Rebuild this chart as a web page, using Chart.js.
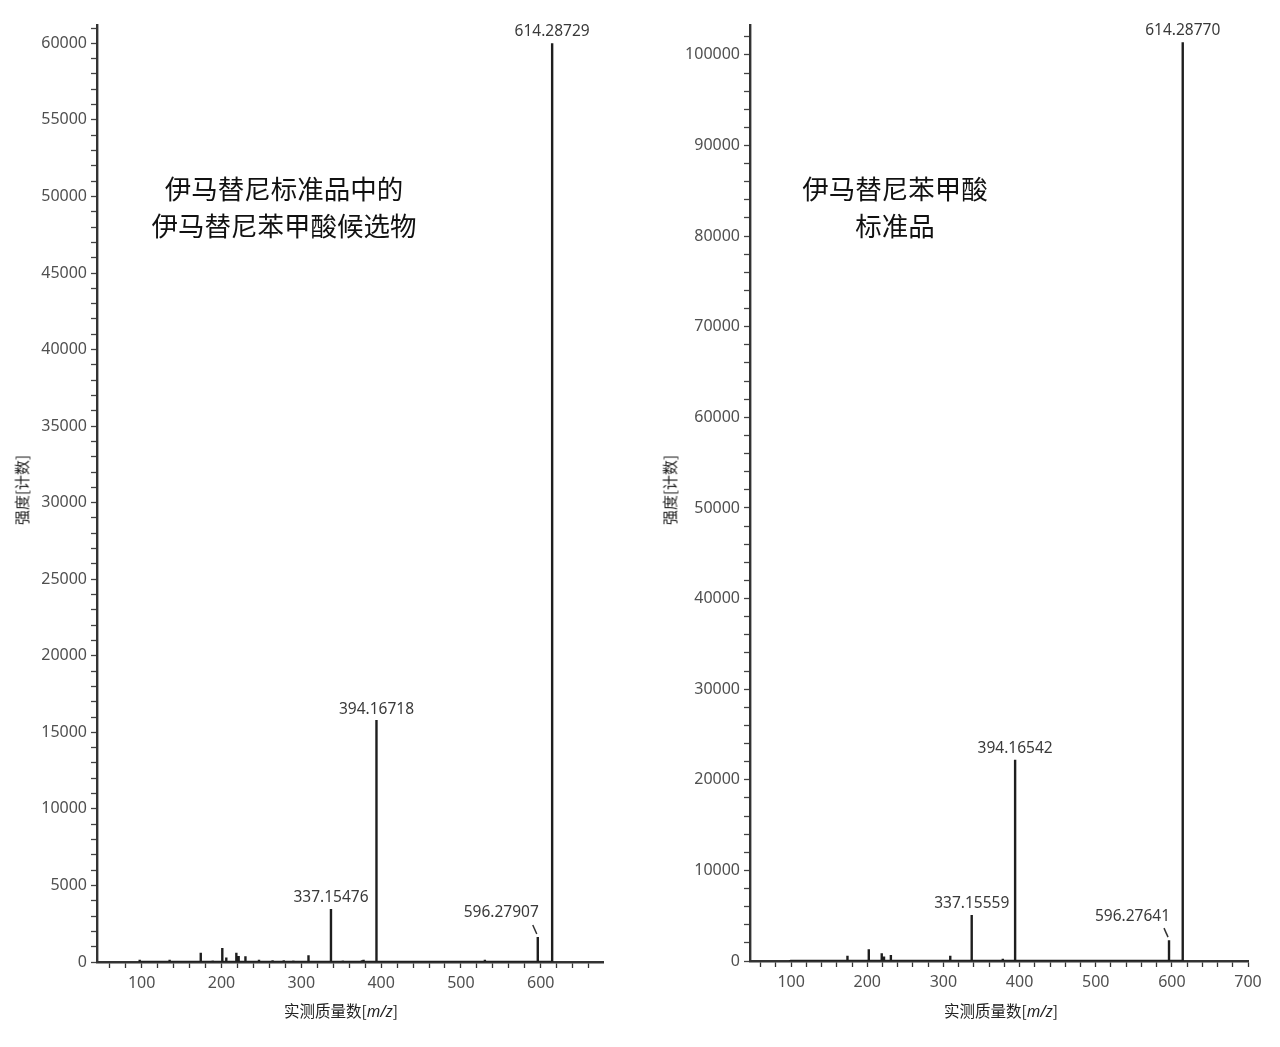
<!DOCTYPE html>
<html>
<head>
<meta charset="utf-8">
<script src="https://cdn.jsdelivr.net/npm/chart.js@4.4.1/dist/chart.umd.min.js"></script>
<style>
  html, body { margin:0; padding:0; background:#fff; }
  body { width:1280px; height:1047px; position:relative; overflow:hidden; font-family:"Noto Sans","Noto Sans CJK SC",sans-serif; }
  canvas { position:absolute; top:0; }
  .note { position:absolute; font-family:"Noto Sans CJK SC",sans-serif; font-size:26.5px; line-height:37px; color:#111; text-align:center; white-space:nowrap; transform:translateX(-50%); }
  .xt { position:absolute; font-family:"Noto Sans CJK SC",sans-serif; font-size:15.5px; color:#222; white-space:nowrap; transform:translate(-50%,-50%); }
  .yt { position:absolute; font-family:"Noto Sans CJK SC",sans-serif; font-size:15px; color:#222; white-space:nowrap; transform:translate(-50%,-50%) rotate(-90deg); }
  .xt i { font-family:"Noto Sans",sans-serif; font-style:italic; }
</style>
</head>
<body>
<canvas id="c1" width="640" height="1047" style="left:0"></canvas>
<canvas id="c2" width="640" height="1047" style="left:640px"></canvas>

<div class="note" style="left:284px; top:169px;">伊马替尼标准品中的<br>伊马替尼苯甲酸候选物</div>
<div class="note" style="left:895px; top:169px;">伊马替尼苯甲酸<br>标准品</div>
<div class="xt" style="left:341px; top:1010px;">实测质量数[<i>m/z</i>]</div>
<div class="xt" style="left:1001px; top:1010px;">实测质量数[<i>m/z</i>]</div>
<div class="yt" style="left:21px; top:490px;">强度[计数]</div>
<div class="yt" style="left:669px; top:490px;">强度[计数]</div>

<script>
// ---- Left spectrum: imatinib standard, candidate imatinib benzoic acid ----
const mzA  = [97.5, 118, 135, 174, 189, 201, 206, 218.6, 221.5, 230, 247, 264, 278, 290, 309, 337.15476, 352, 364, 376, 378, 394.16718, 530, 596.27907, 614.28729];
const intA = [150, 80, 150, 610, 100, 920, 300, 610, 400, 370, 150, 120, 120, 100, 435, 3460, 100, 80, 120, 150, 15800, 150, 1630, 60000];
const labelsA = ["614.28729", "394.16718", "337.15476", "596.27907"];

// ---- Right spectrum: imatinib benzoic acid standard ----
const mzB  = [98.7, 135, 174, 190, 202, 219, 222, 231, 246, 264, 309, 337.15559, 378, 394.16542, 530, 596.27641, 614.28770];
const intB = [100, 100, 590, 150, 1290, 850, 500, 660, 150, 100, 590, 5080, 250, 22200, 150, 2300, 101400];
const labelsB = ["614.28770", "394.16542", "337.15559", "596.27641"];

// axis ranges / ticks
const xRangeA = [44, 678],  yRangeA = [0, 61200];
const xRangeB = [46, 700],  yRangeB = [0, 103300];
const xMajor = 100, xMinor = 20;
const yMajorA = 5000, yMinorA = 1000;
const yMajorB = 10000, yMinorB = 2000;

function sticks(mz, inten) {
  const pts = [];
  mz.forEach((m, i) => { pts.push({x:m, y:0}, {x:m, y:inten[i]}, {x:m, y:0}); });
  return pts;
}

function tickValues(min, max, step) {
  const out = [];
  for (let v = Math.ceil(min / step) * step; v <= max; v += step) out.push({value: v});
  return out;
}

const peakLabelPlugin = {
  id: 'peakLabels',
  afterDatasetsDraw(chart, args, opts) {
    const ctx = chart.ctx, xs = chart.scales.x, ys = chart.scales.y;
    ctx.save();
    ctx.font = '15.5px "Noto Sans", sans-serif';
    ctx.fillStyle = '#3a3a3a';
    ctx.textBaseline = 'middle';
    opts.items.forEach(it => {
      const m = parseFloat(it.text);
      const idx = opts.mz.indexOf(m);
      const px = xs.getPixelForValue(m);
      const py = ys.getPixelForValue(opts.inten[idx]);
      if (it.leader) {
        ctx.textAlign = 'right';
        ctx.fillText(it.text, px + it.dx, py + it.dy);
        ctx.strokeStyle = '#333'; ctx.lineWidth = 1.5;
        ctx.beginPath();
        ctx.moveTo(px - 5, py - 12); ctx.lineTo(px - 1, py - 3);
        ctx.stroke();
      } else {
        ctx.textAlign = 'center';
        ctx.fillText(it.text, px, py + it.dy);
      }
    });
    ctx.restore();
  }
};

function makeChart(id, mz, inten, labels, xr, yr, yMajor, yMinor, yAxisW, padRight, xAxisH) {
  const items = [
    {text: labels[0], dy: -12},
    {text: labels[1], dy: -11},
    {text: labels[2], dy: -11},
    {text: labels[3], leader: true, dx: 1, dy: -24}
  ];
  new Chart(document.getElementById(id), {
    type: 'line',
    data: { datasets: [{
      data: sticks(mz, inten),
      borderColor: '#1e1e1e',
      borderWidth: 2.4,
      pointRadius: 0,
      tension: 0,
      fill: false
    }]},
    options: {
      responsive: false,
      animation: false,
      devicePixelRatio: 1,
      parsing: false,
      layout: { padding: { top: 25, right: padRight, bottom: 0, left: 0 } },
      plugins: {
        legend: { display: false },
        tooltip: { enabled: false },
        peakLabels: { items, mz, inten }
      },
      scales: {
        x: {
          type: 'linear', min: xr[0], max: xr[1],
          border: { color: '#333', width: 2.4 },
          grid: { drawOnChartArea: false, drawTicks: true, tickLength: 6, tickColor: '#333', tickWidth: 1.3 },
          ticks: {
            autoSkip: false, maxRotation: 0, padding: 6,
            color: '#505050', font: { family: 'Noto Sans', size: 16 },
            callback: v => (Math.round(v) % xMajor === 0 ? String(v) : '')
          },
          afterBuildTicks: s => { s.ticks = tickValues(xr[0], xr[1], xMinor); },
          afterFit: s => { s.height = xAxisH; }
        },
        y: {
          type: 'linear', min: yr[0], max: yr[1],
          border: { color: '#333', width: 2.4 },
          grid: { drawOnChartArea: false, drawTicks: true, tickLength: 6, tickColor: '#444', tickWidth: 1.3 },
          ticks: {
            autoSkip: false, padding: 4,
            color: '#505050', font: { family: 'Noto Sans', size: 16 },
            callback: v => (Math.round(v) % yMajor === 0 ? String(v) : '')
          },
          afterBuildTicks: s => { s.ticks = tickValues(yr[0], yr[1], yMinor); },
          afterFit: s => { s.width = yAxisW; }
        }
      }
    },
    plugins: [peakLabelPlugin]
  });
}

makeChart('c1', mzA, intA, labelsA, xRangeA, yRangeA, yMajorA, yMinorA, 97, 37, 85);
makeChart('c2', mzB, intB, labelsB, xRangeB, yRangeB, yMajorB, yMinorB, 110, 32, 86);
</script>
</body>
</html>
